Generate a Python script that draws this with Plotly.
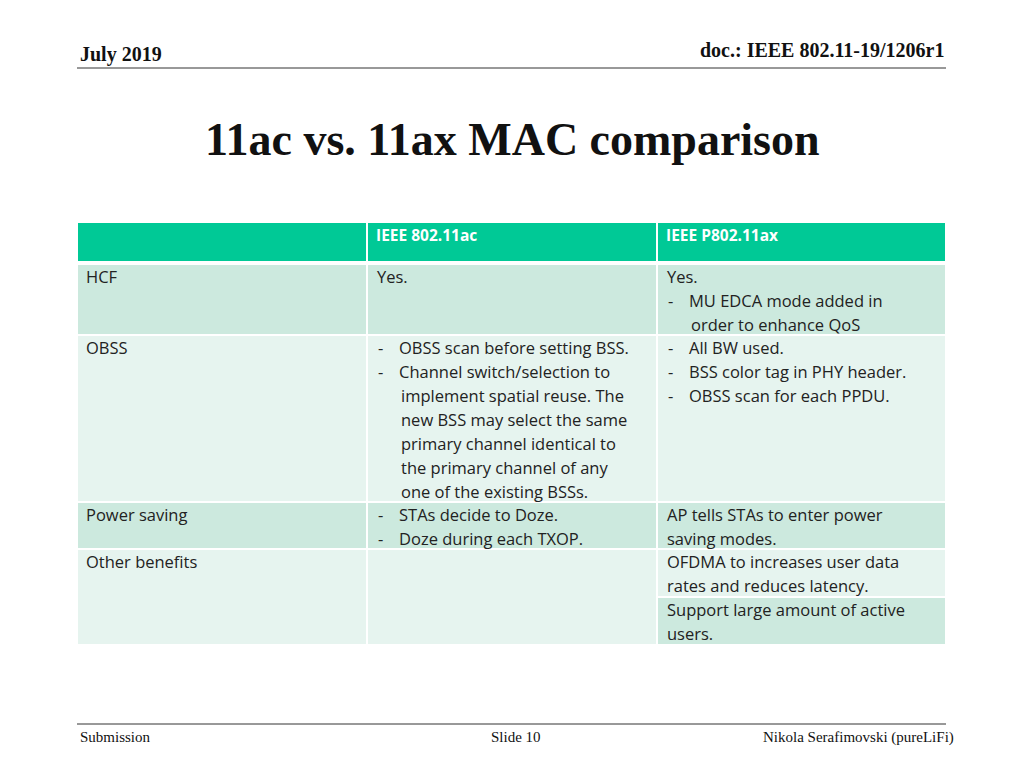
import plotly.graph_objects as go

col_headers = ["", "IEEE 802.11ac", "IEEE P802.11ax"]
row_labels = ["HCF", "OBSS", "Power saving", "Other benefits"]
ac_text = [
    ["Yes."],
    ["- OBSS scan before setting BSS.", "- Channel switch/selection to", "  implement spatial reuse. The",
     "  new BSS may select the same", "  primary channel identical to", "  the primary channel of any",
     "  one of the existing BSSs."],
    ["- STAs decide to Doze.", "- Doze during each TXOP."],
    [],
]
ax_text = [
    ["Yes.", "- MU EDCA mode added in", "  order to enhance QoS"],
    ["- All BW used.", "- BSS color tag in PHY header.", "- OBSS scan for each PPDU."],
    ["AP tells STAs to enter power", "saving modes."],
    ["OFDMA to increases user data", "rates and reduces latency.", "Support large amount of active", "users."],
]

# layout geometry (pixels)
col_x = [77, 367, 657, 946]
row_y = [264, 335, 502, 549, 645]
header_y = (222, 262)
ax_split = 597
line_h = 24
HEAD = "#00C996"
DARK = "#CCE9DE"
LIGHT = "#E6F4EF"
FS = 16.5

fig = go.Figure()
shapes, ann = [], []

def rect(x0, x1, y0, y1, c):
    shapes.append(dict(type="rect", xref="x", yref="y", x0=x0, x1=x1, y0=y0, y1=y1,
                       fillcolor=c, line=dict(color="white", width=2), layer="below"))

def txt(x, y, s, size=FS, bold=False, color="#222", anchor="left", font="Open Sans"):
    ann.append(dict(x=x, y=y, xref="x", yref="y", text=("<b>%s</b>" % s) if bold else s,
                    showarrow=False, xanchor=anchor, yanchor="middle",
                    font=dict(family=font, size=size, color=color)))

for i in range(3):
    rect(col_x[i], col_x[i + 1], header_y[0], header_y[1], HEAD)
    if col_headers[i]:
        txt(col_x[i] + 7, 235, col_headers[i], bold=True, color="white", size=15.5)

for r in range(4):
    c = DARK if r % 2 == 0 else LIGHT
    for i in range(3):
        if r == 3 and i == 2:
            rect(col_x[2], col_x[3], row_y[3], ax_split, LIGHT)
            rect(col_x[2], col_x[3], ax_split, row_y[4], DARK)
        else:
            rect(col_x[i], col_x[i + 1], row_y[r], row_y[r + 1], c)
    y0 = row_y[r] + 12
    txt(col_x[0] + 7, y0, row_labels[r])
    for i, lines in ((1, ac_text[r]), (2, ax_text[r])):
        for k, ln in enumerate(lines):
            y = y0 + k * line_h
            x = col_x[i] + 8
            if ln.startswith("- "):
                txt(x + 1, y, "-")
                txt(x + 22, y, ln[2:])
            elif ln.startswith("  "):
                txt(x + 24, y, ln[2:])
            else:
                txt(x, y, ln)

# slide chrome
shapes.append(dict(type="line", xref="x", yref="y", x0=77, x1=946, y0=68, y1=68, line=dict(color="#333", width=1)))
shapes.append(dict(type="line", xref="x", yref="y", x0=77, x1=946, y0=724, y1=724, line=dict(color="#333", width=1)))
serif = "Liberation Serif"
txt(78, 54, "July 2019", size=20, bold=True, font=serif, color="#111")
txt(946, 50, "doc.: IEEE 802.11-19/1206r1", size=20, bold=True, font=serif, color="#111", anchor="right")
txt(512, 139, "11ac vs. 11ax MAC comparison", size=46, bold=True, font=serif, color="#111", anchor="center")
txt(78, 737, "Submission", size=15, font=serif, color="#111")
txt(516, 737, "Slide 10", size=15, font=serif, color="#111", anchor="center")
txt(956, 737, "Nikola Serafimovski (pureLiFi)", size=15, font=serif, color="#111", anchor="right")

fig.update_layout(width=1024, height=768, margin=dict(l=0, r=0, t=0, b=0),
                  paper_bgcolor="white", plot_bgcolor="white", shapes=shapes, annotations=ann,
                  xaxis=dict(range=[8, 1032], visible=False, fixedrange=True),
                  yaxis=dict(range=[776, 8], visible=False, fixedrange=True), showlegend=False)
fig.write_html("out.html", config={"displayModeBar": False})
